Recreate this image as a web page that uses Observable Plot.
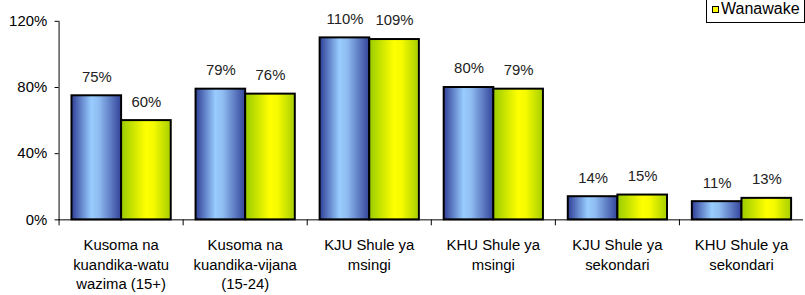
<!DOCTYPE html>
<html>
<head>
<meta charset="utf-8">
<script src="https://cdn.jsdelivr.net/npm/d3@7"></script>
<script src="https://cdn.jsdelivr.net/npm/@observablehq/plot@0.6"></script>
<style>
  html, body { margin: 0; padding: 0; background: #fff; overflow: hidden; }
  #wrap { position: relative; width: 805px; height: 295px; overflow: hidden; }
  #chart { position: absolute; left: 0; top: 0; }
  .legend { position: absolute; left: 706px; top: -24px; width: 97px; height: 45px;
            border: 1px solid #000; background: #fff; font-family: "Liberation Sans", Arial, sans-serif; font-size: 16px; }
  .legend .row { position: absolute; left: 5px; height: 16px; line-height: 16px; white-space: nowrap; }
  .legend .sw { display: inline-block; width: 5px; height: 5px; border: 1px solid #000; margin-right: 2px; vertical-align: 1px; }
</style>
</head>
<body>
<div id="wrap">
  <div id="chart"></div>
  <div class="legend">
    <div class="row" style="top:24px"><span class="sw" style="background:#ffff00"></span>Wanawake</div>
  </div>
</div>
<script>
const categories = [
  "Kusoma na\nkuandika-watu\nwazima (15+)",
  "Kusoma na\nkuandika-vijana\n(15-24)",
  "KJU Shule ya\nmsingi",
  "KHU Shule ya\nmsingi",
  "KJU Shule ya\nsekondari",
  "KHU Shule ya\nsekondari"
];
const series = ["Wanaume", "Wanawake"];
const wanaume = [75, 79, 110, 80, 14, 11];
const wanawake = [60, 76, 109, 79, 15, 13];
const yTicks = [0, 40, 80, 120];

const data = categories.flatMap((c, i) => [
  {cat: c, sex: series[0], v: wanaume[i]},
  {cat: c, sex: series[1], v: wanawake[i]}
]);

const chart = Plot.plot({
  width: 811,
  height: 295,
  marginLeft: 57,
  marginRight: 0,
  marginTop: 21,
  marginBottom: 74,
  style: {fontFamily: "'Liberation Sans', Arial, sans-serif", fontSize: "15px", color: "#000", background: "transparent"},
  fx: {domain: categories, padding: 0, label: null},
  x: {domain: series, paddingInner: 0, paddingOuter: 0.25, axis: null},
  y: {domain: [0, 120], ticks: yTicks, tickFormat: d => d + "%", tickSize: 4, tickPadding: 8, line: true, label: null},
  marks: [
    Plot.barY(data.filter(d => d.sex === series[0]), {fx: "cat", x: "sex", y: "v", fill: "url(#gBlue)", stroke: "#000", strokeWidth: 2}),
    Plot.barY(data.filter(d => d.sex === series[1]), {fx: "cat", x: "sex", y: "v", fill: "url(#gYellow)", stroke: "#000", strokeWidth: 2}),
    Plot.text(data, {fx: "cat", x: "sex", y: "v", text: d => d.v + "%", dy: -19, lineAnchor: "middle", fontSize: 15, fill: "#222"}),
    Plot.ruleY([0], {stroke: "#000"}),
    Plot.frame({anchor: "left", insetTop: 200, insetBottom: -5, stroke: "#000"}),
    Plot.axisFx({anchor: "bottom", tickSize: 0, tickPadding: 17, lineHeight: 1.3, fontSize: 15, label: null})
  ]
});

const defs = document.createElementNS("http://www.w3.org/2000/svg", "defs");
defs.innerHTML = `
  <linearGradient id="gBlue" x1="0" y1="0" x2="1" y2="0">
    <stop offset="0" stop-color="#2f3f96"/>
    <stop offset="0.4" stop-color="#99ccff"/>
    <stop offset="0.55" stop-color="#8fbdf2"/>
    <stop offset="1" stop-color="#34449a"/>
  </linearGradient>
  <linearGradient id="gYellow" x1="0" y1="0" x2="1" y2="0">
    <stop offset="0" stop-color="#99cc00"/>
    <stop offset="0.5" stop-color="#ffff00"/>
    <stop offset="0.65" stop-color="#f6fb00"/>
    <stop offset="1" stop-color="#a6cf00"/>
  </linearGradient>`;
chart.insertBefore(defs, chart.firstChild);
document.getElementById("chart").appendChild(chart);
</script>
</body>
</html>
